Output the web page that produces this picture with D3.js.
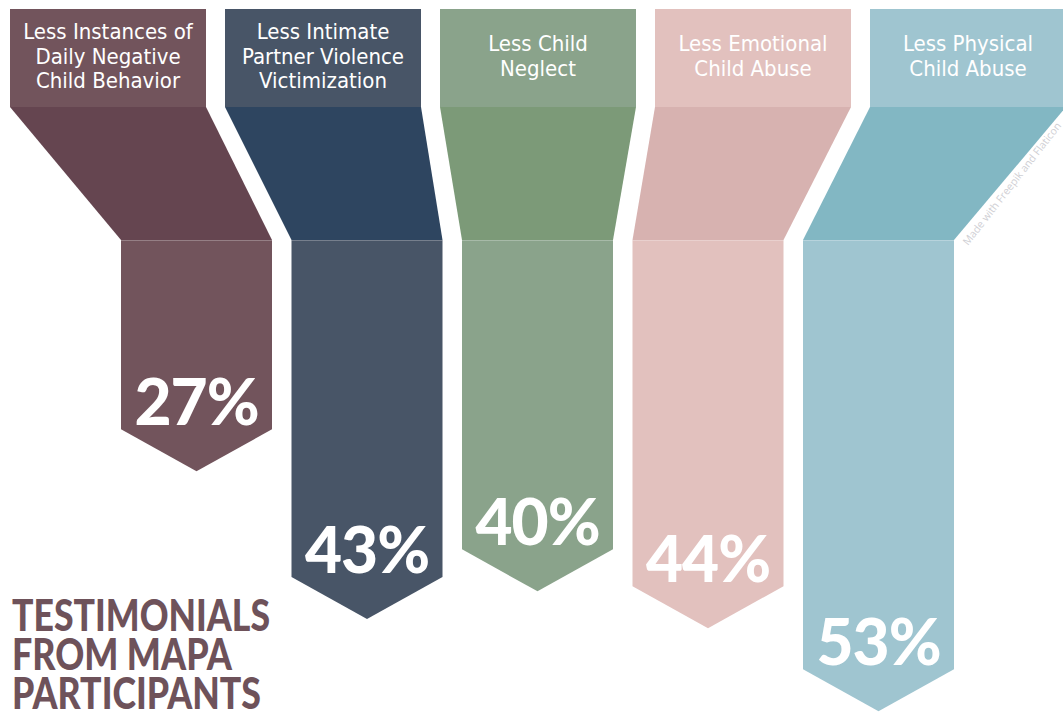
<!DOCTYPE html>
<html><head><meta charset="utf-8">
<script src="https://cdn.jsdelivr.net/npm/d3@7"></script>
<style>html,body{margin:0;padding:0;background:#fff;overflow:hidden}</style>
</head><body><svg id="chart" width="1063" height="717"></svg>
<script>
// ---- data ----
const categories = [
  "Less Instances of Daily Negative Child Behavior",
  "Less Intimate Partner Violence Victimization",
  "Less Child Neglect",
  "Less Emotional Child Abuse",
  "Less Physical Child Abuse"
];
const categoryLines = [
  ["Less Instances of", "Daily Negative", "Child Behavior"],
  ["Less Intimate", "Partner Violence", "Victimization"],
  ["Less Child", "Neglect"],
  ["Less Emotional", "Child Abuse"],
  ["Less Physical", "Child Abuse"]
];
const values = [27, 43, 40, 44, 53];
const valueLabels = ["27%", "43%", "40%", "44%", "53%"];
const headerColors = ["#72545c", "#485567", "#8aa38b", "#e2c1be", "#9fc5d0"];
const funnelColors = ["#654550", "#2e4560", "#7c9a78", "#d7b2b0", "#82b7c3"];
const titleLines = ["TESTIMONIALS", "FROM MAPA", "PARTICIPANTS"];
const watermark = "Made with Freepik and Flaticon";

// ---- layout ----
const headerTop = 9, headerBottom = 107, funnelBottom = 240, arrowH = 42;

const svg = d3.select("#chart");

const headerX = d3.scaleBand().domain(categories).range([10, 1066])
  .paddingInner(19 / 215).paddingOuter(0);
const barX = d3.scaleBand().domain(categories).range([121, 954])
  .paddingInner(19.5 / 170.5).paddingOuter(0);
const y = d3.scaleLinear().domain([0, 60]).range([222, 776]);

const rows = categories.map((c, i) => ({
  c, i, v: values[i], lines: categoryLines[i], label: valueLabels[i],
  hc: headerColors[i], fc: funnelColors[i]
}));

const g = svg.append("g");

// headers
g.selectAll("rect.header").data(rows).join("rect")
  .attr("class", "header")
  .attr("x", d => headerX(d.c)).attr("y", headerTop)
  .attr("width", headerX.bandwidth()).attr("height", headerBottom - headerTop)
  .attr("fill", d => d.hc);

// funnels
g.selectAll("path.funnel").data(rows).join("path")
  .attr("class", "funnel")
  .attr("fill", d => d.fc)
  .attr("d", d => {
    const hx = headerX(d.c), hw = headerX.bandwidth();
    const bx = barX(d.c), bw = barX.bandwidth();
    return `M${hx},${headerBottom}L${hx + hw},${headerBottom}L${bx + bw},${funnelBottom}L${bx},${funnelBottom}Z`;
  });

// bars with arrow tips
g.selectAll("path.bar").data(rows).join("path")
  .attr("class", "bar")
  .attr("fill", d => d.hc)
  .attr("d", d => {
    const bx = barX(d.c), bw = barX.bandwidth();
    const tip = y(d.v);
    return `M${bx},${funnelBottom}L${bx + bw},${funnelBottom}L${bx + bw},${tip - arrowH}L${bx + bw / 2},${tip}L${bx},${tip - arrowH}Z`;
  });

// thin light seam where funnel meets bar
g.selectAll("line.seam").data(rows).join("line")
  .attr("x1", d => barX(d.c)).attr("x2", d => barX(d.c) + barX.bandwidth())
  .attr("y1", funnelBottom + 0.5).attr("y2", funnelBottom + 0.5)
  .attr("stroke", "#ffffff").attr("stroke-opacity", 0.25).attr("stroke-width", 1);

// header labels
const lineH = 24.5, headerMid = 56;
rows.forEach(d => {
  const n = d.lines.length;
  const first = headerMid - (n - 1) * lineH / 2 + 7.5;
  g.append("text")
    .attr("text-anchor", "middle")
    .attr("font-family", "'Liberation Sans Narrow', 'DejaVu Sans Condensed', 'Arial Narrow', sans-serif")
    .attr("font-size", 22)
    .attr("fill", "#ffffff")
    .selectAll("tspan").data(d.lines).join("tspan")
    .attr("x", headerX(d.c) + headerX.bandwidth() / 2)
    .attr("y", (l, k) => first + k * lineH)
    .text(l => l);
});

// value labels
g.selectAll("text.val").data(rows).join("text")
  .attr("class", "val")
  .attr("x", d => barX(d.c) + barX.bandwidth() / 2)
  .attr("y", d => y(d.v) - arrowH - 4)
  .attr("text-anchor", "middle")
  .attr("font-family", "Lato, 'Open Sans', sans-serif")
  .attr("font-weight", 900)
  .attr("font-size", 64)
  .attr("letter-spacing", -1)
  .attr("fill", "#ffffff")
  .text(d => d.label);

// title (single text block, one tspan per line)
const titleWidths = [258, 220, 249];
g.append("text")
  .attr("font-family", "Lato, sans-serif")
  .attr("font-weight", 900)
  .attr("font-size", 43)
  .attr("fill", "#6e525a")
  .selectAll("tspan").data(titleLines).join("tspan")
  .attr("x", 12)
  .attr("y", (t, k) => 631 + k * 39)
  .attr("textLength", (t, k) => titleWidths[k])
  .attr("lengthAdjust", "spacingAndGlyphs")
  .text(t => t);

// watermark
g.append("text")
  .attr("transform", "translate(968,246) rotate(-52)")
  .attr("font-family", "'Open Sans', sans-serif")
  .attr("font-size", 10.5)
  .attr("fill", "#cfcfd4")
  .text(watermark);
</script>
</body></html>
